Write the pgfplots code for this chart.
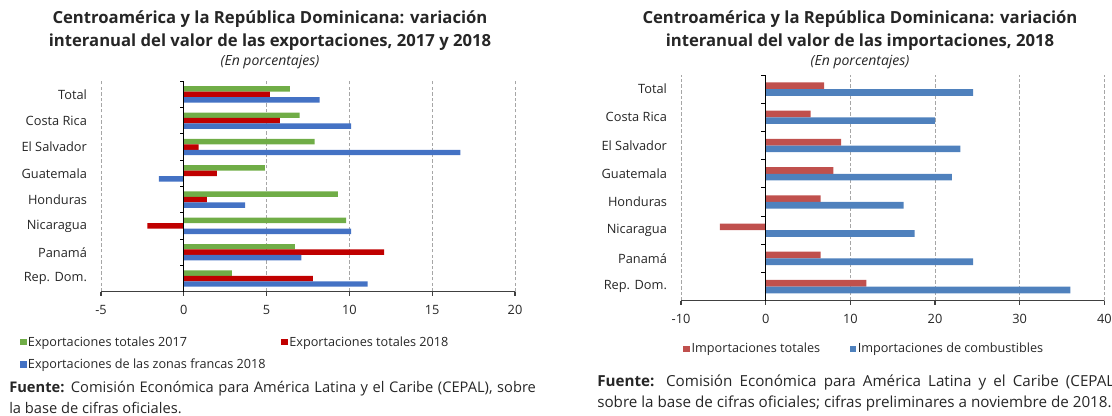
\documentclass[border=0pt]{standalone}
\usepackage{pgfplots}
\pgfplotsset{compat=1.18}
\usepackage{fontspec}
\setmainfont{Open Sans}
\definecolor{gA}{HTML}{70AD47}
\definecolor{rA}{HTML}{C00000}
\definecolor{bA}{HTML}{4472C4}
\definecolor{rB}{HTML}{C0504D}
\definecolor{bB}{HTML}{4F81BD}
\definecolor{txt}{HTML}{262626}
\definecolor{gridc}{HTML}{A6A6A6}
\definecolor{axc}{HTML}{404040}
\pgfplotsset{
  common/.style={
    scale only axis,
    anchor=south west,
    axis x line*=bottom,
    axis y line*=left,
    y axis line style={draw=none},
    x axis line style={draw=axc, line width=0.9pt},
    xtick align=outside,
    major tick length=3pt,
    xtick style={draw=axc, line width=0.9pt},
    ytick style={draw=none},
    xmajorgrids,
    grid style={draw=gridc, line width=0.7pt, dash pattern=on 2.6pt off 1.6pt},
    ymin=-0.5, ymax=7.5,
    ytick={0,...,7},
    yticklabels={Rep. Dom.,Panamá,Nicaragua,Honduras,Guatemala,El Salvador,Costa Rica,Total},
    tick label style={font=\fontsize{9.6}{12}\selectfont, text=txt},
    yticklabel style={xshift=-7pt},
    xticklabel style={yshift=-3.5pt},
    /pgf/number format/assume math mode=true,
    legend cell align=left,
    legend image code/.code={\fill[##1] (0pt,-2.4pt) rectangle (5.2pt,2.4pt);},
    clip=false,
  }
}
\begin{document}
\begin{tikzpicture}
\useasboundingbox (0,0) rectangle (834pt,311.25pt);
% ---------------- left chart
\begin{axis}[common,
  at={(75.75pt,92.5pt)}, width=310.5pt, height=157.8pt,
  xmin=-5, xmax=20, xtick={-5,0,5,10,15,20},
  legend columns=2,
  legend style={at={(-0.197,-0.205)}, anchor=north west, draw=none, fill=none,
    inner sep=0pt, row sep=6pt, font=\fontsize{9.5}{11}\selectfont,
    nodes={inner sep=1pt, text=txt},
    /tikz/column 2/.style={column sep=10.5pt}},
]
\addplot[xbar, bar width=4.1pt, bar shift=4.1pt, fill=gA, draw=none] coordinates {
 (6.4,7) (7.0,6) (7.9,5) (4.9,4) (9.3,3) (9.8,2) (6.7,1) (2.9,0)};
\addplot[xbar, bar width=4.1pt, bar shift=0pt, fill=rA, draw=none] coordinates {
 (5.2,7) (5.8,6) (0.9,5) (2.0,4) (1.4,3) (-2.2,2) (12.1,1) (7.8,0)};
\addplot[xbar, bar width=4.1pt, bar shift=-4.1pt, fill=bA, draw=none] coordinates {
 (8.2,7) (10.1,6) (16.7,5) (-1.5,4) (3.7,3) (10.1,2) (7.1,1) (11.1,0)};
\legend{Exportaciones totales 2017,Exportaciones totales 2018,Exportaciones de las zonas francas 2018}
\addplot[forget plot, black, line width=0.9pt] coordinates {(0,-0.5) (0,7.5)};
\addplot[forget plot, xcomb, black, line width=0.7pt] coordinates {
 (-0.25,0.5) (-0.25,1.5) (-0.25,2.5) (-0.25,3.5) (-0.25,4.5) (-0.25,5.5) (-0.25,6.5) (-0.25,7.5)};
\end{axis}
% ---------------- right chart
\begin{axis}[common,
  at={(510.75pt,85.7pt)}, width=317.5pt, height=169.3pt,
  xmin=-10, xmax=40, xtick={-10,0,10,20,30,40},
  legend columns=2,
  legend style={at={(0.005,-0.18)}, anchor=north west, draw=none, fill=none,
    inner sep=0pt, font=\fontsize{9.5}{11}\selectfont,
    nodes={inner sep=1pt, text=txt},
    /tikz/column 2/.style={column sep=21pt}},
]
\addplot[xbar, bar width=5pt, bar shift=2.5pt, fill=rB, draw=none] coordinates {
 (6.9,7) (5.3,6) (8.9,5) (8.0,4) (6.5,3) (-5.4,2) (6.5,1) (11.9,0)};
\addplot[xbar, bar width=5pt, bar shift=-2.5pt, fill=bB, draw=none] coordinates {
 (24.5,7) (20.0,6) (23.0,5) (22.0,4) (16.3,3) (17.6,2) (24.5,1) (36.0,0)};
\legend{Importaciones totales,Importaciones de combustibles}
\addplot[forget plot, black, line width=0.9pt] coordinates {(0,-0.5) (0,7.5)};
\addplot[forget plot, xcomb, black, line width=0.7pt] coordinates {
 (-0.5,0.5) (-0.5,1.5) (-0.5,2.5) (-0.5,3.5) (-0.5,4.5) (-0.5,5.5) (-0.5,6.5) (-0.5,7.5)};
\end{axis}
% ---------------- texts
\begin{scope}[shift={(0,311.25pt)}, x=0.75pt, y=-0.75pt]
\node[align=center, text=txt, font=\bfseries\fontsize{12.5}{17.25}\selectfont] at (270,31)
  {Centroamérica y la República Dominicana: variación\\interanual del valor de las exportaciones, 2017 y 2018};
\node[text=txt, font=\itshape\fontsize{10.5}{12}\selectfont] at (270,62) {(En porcentajes)};
\node[align=center, text=txt, font=\bfseries\fontsize{12.5}{17.25}\selectfont] at (860,31)
  {Centroamérica y la República Dominicana: variación\\interanual del valor de las importaciones, 2018};
\node[text=txt, font=\itshape\fontsize{10.5}{12}\selectfont] at (860,62) {(En porcentajes)};
\node[anchor=base west, inner sep=0pt, text=txt, font=\fontsize{11}{15.75}\selectfont] at (9,392)
  {\parbox[t]{395pt}{\textbf{Fuente:} Comisión Económica para América Latina y el Caribe (CEPAL), sobre\linebreak la base de cifras oficiales.}};
\node[anchor=base west, inner sep=0pt, text=txt, font=\fontsize{11.4}{15.75}\selectfont] at (597,386)
  {\parbox[t]{394pt}{\textbf{Fuente:} Comisión Económica para América Latina y el Caribe (CEPAL),\linebreak sobre la base de cifras oficiales; cifras preliminares a noviembre de 2018.}};
\end{scope}
\end{tikzpicture}
\end{document}
